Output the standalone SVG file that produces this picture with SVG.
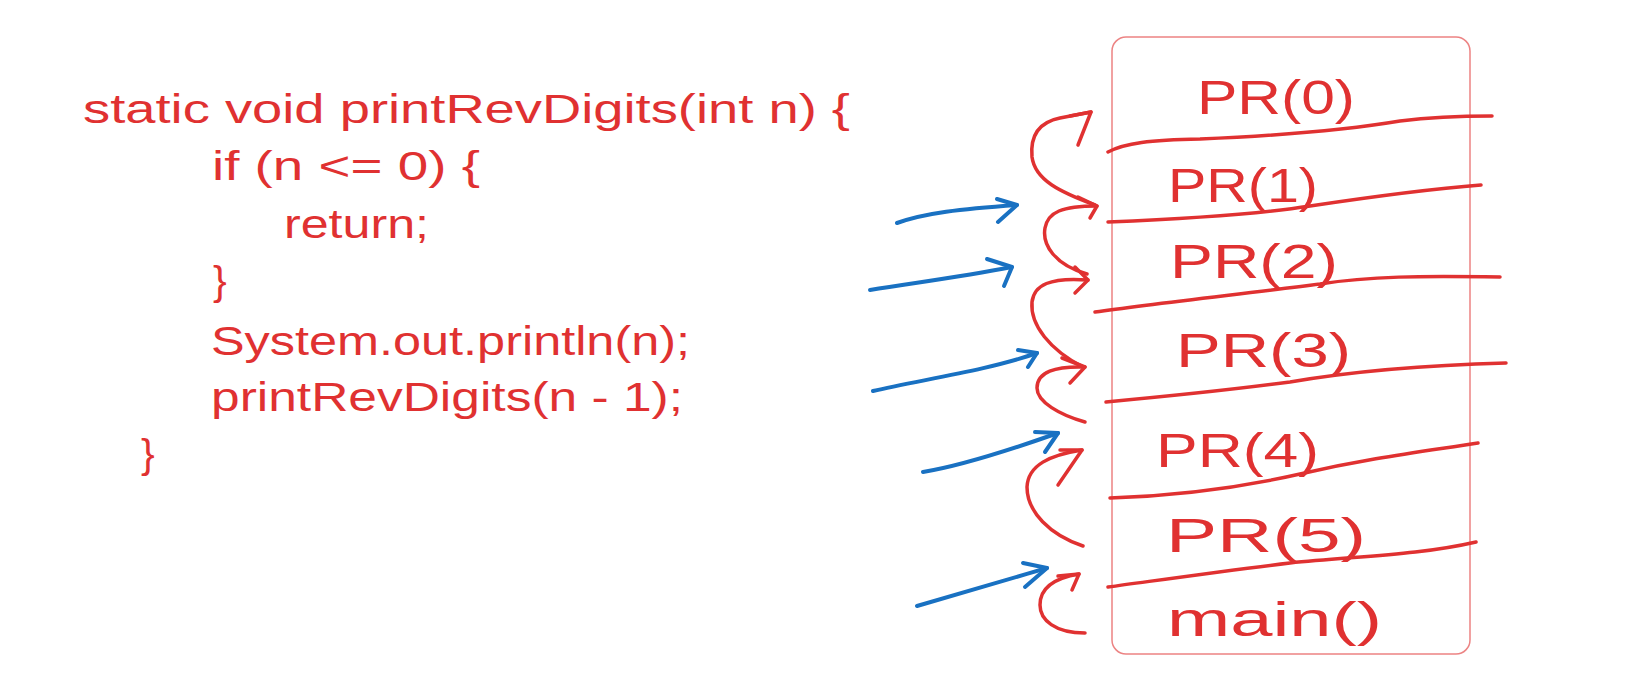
<svg xmlns="http://www.w3.org/2000/svg" width="1634" height="673" viewBox="0 0 1634 673">
<style>
.code{font-family:"Liberation Sans","DejaVu Sans",sans-serif;font-size:41px;fill:#e03131}
.lbl{font-family:"Liberation Sans","DejaVu Sans",sans-serif;font-size:48px;fill:#e03131}
.r{fill:none;stroke:#e03131;stroke-width:3.5;stroke-linecap:round;stroke-linejoin:round}
.b{fill:none;stroke:#1971c2;stroke-width:4;stroke-linecap:round;stroke-linejoin:round}
</style>
<rect width="1634" height="673" fill="#ffffff"/>
<g id="code">
<text class="code" x="83" y="123" textLength="767" lengthAdjust="spacingAndGlyphs">static void printRevDigits(int n) {</text>
<text class="code" x="212" y="180" textLength="268" lengthAdjust="spacingAndGlyphs">if (n &lt;= 0) {</text>
<text class="code" x="284" y="238" textLength="145" lengthAdjust="spacingAndGlyphs">return;</text>
<text class="code" x="213" y="295">}</text>
<text class="code" x="211" y="355" textLength="479" lengthAdjust="spacingAndGlyphs">System.out.println(n);</text>
<text class="code" x="211" y="411" textLength="472" lengthAdjust="spacingAndGlyphs">printRevDigits(n - 1);</text>
<text class="code" x="141" y="468">}</text>
</g>
<g id="stack">
<rect x="1112" y="37" width="358" height="617" rx="14" fill="none" stroke="#e03131" stroke-opacity="0.6" stroke-width="1.5"/>
</g>
<g id="frame-dividers">
<path class="r" d="M1108,152 C1125,143 1150,140 1200,139 C1270,136 1340,131 1400,121 C1440,116 1470,116 1492,116"/>
<path class="r" d="M1108,222 C1180,219 1260,214 1310,206 C1370,197 1430,189 1481,185"/>
<path class="r" d="M1095,312 C1150,304 1250,293 1320,284 C1370,276 1420,276 1500,277"/>
<path class="r" d="M1106,402 C1160,397 1230,390 1290,382 C1360,370 1430,365 1506,363"/>
<path class="r" d="M1110,498 C1170,496 1230,490 1300,474 C1370,458 1420,452 1478,443"/>
<path class="r" d="M1108,587 C1160,580 1230,570 1290,563 C1360,556 1420,555 1476,542"/>
</g>
<g id="label-pr0"><text class="lbl" x="1197" y="114" textLength="158" lengthAdjust="spacingAndGlyphs">PR(0)</text></g>
<g id="label-pr1"><text class="lbl" x="1168" y="202" textLength="150" lengthAdjust="spacingAndGlyphs">PR(1)</text></g>
<g id="label-pr2"><text class="lbl" x="1170" y="278" textLength="168" lengthAdjust="spacingAndGlyphs">PR(2)</text></g>
<g id="label-pr3"><text class="lbl" x="1176" y="367" textLength="175" lengthAdjust="spacingAndGlyphs">PR(3)</text></g>
<g id="label-pr4"><text class="lbl" x="1156" y="467" textLength="163" lengthAdjust="spacingAndGlyphs">PR(4)</text></g>
<g id="label-pr5"><text class="lbl" x="1166" y="552" textLength="200" lengthAdjust="spacingAndGlyphs">PR(5)</text></g>
<g id="label-main"><text class="lbl" x="1167" y="636" textLength="215" lengthAdjust="spacingAndGlyphs">main()</text></g>
<g id="connectors">
<path class="r" d="M1095,205 C1060,192 1035,180 1032,157 C1030,135 1040,122 1060,118 L1091,112"/>
<path class="r" d="M1078,145 L1091,112 L1070,116"/>
<path class="r" d="M1087,274 C1055,265 1042,245 1045,228 C1048,212 1062,206 1097,206"/>
<path class="r" d="M1078,197 L1097,206 L1090,218"/>
<path class="r" d="M1083,367 C1050,350 1030,325 1032,302 C1034,285 1050,277 1088,280"/>
<path class="r" d="M1075,267 L1088,280 L1075,293"/>
<path class="r" d="M1085,422 C1060,415 1037,402 1037,388 C1037,372 1055,366 1085,367"/>
<path class="r" d="M1062,358 L1085,367 L1070,383"/>
<path class="r" d="M1083,546 C1050,535 1027,512 1027,487 C1028,465 1050,455 1082,450"/>
<path class="r" d="M1060,450 L1082,450 L1058,485"/>
<path class="r" d="M1085,633 C1055,633 1040,620 1040,605 C1040,588 1055,578 1079,574"/>
<path class="r" d="M1058,576 L1079,574 L1072,590"/>
<path class="b" d="M897,223 C925,213 960,209 1017,205"/>
<path class="b" d="M997,199 L1017,205 L998,222"/>
<path class="b" d="M870,290 C920,282 960,277 1012,267"/>
<path class="b" d="M987,259 L1012,267 L1004,286"/>
<path class="b" d="M873,391 C920,380 990,370 1037,353"/>
<path class="b" d="M1018,350 L1037,353 L1028,367"/>
<path class="b" d="M923,472 C960,466 1010,450 1058,433"/>
<path class="b" d="M1035,432 L1058,433 L1045,452"/>
<path class="b" d="M917,606 C950,596 1000,582 1047,568"/>
<path class="b" d="M1023,563 L1047,568 L1025,587"/>
</g>
</svg>
